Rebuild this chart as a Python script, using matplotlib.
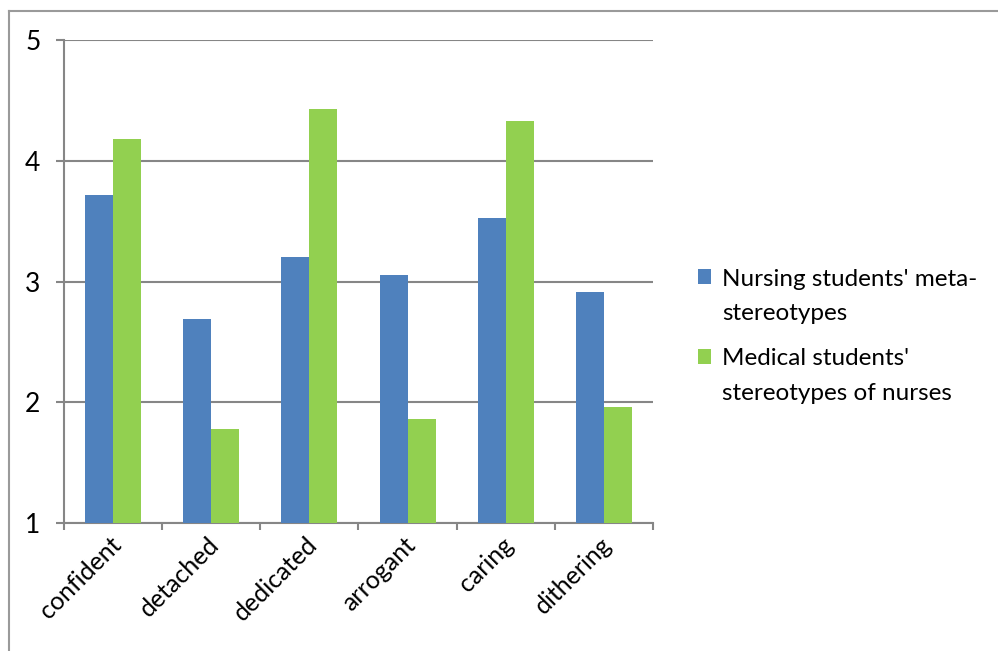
import matplotlib
matplotlib.use("Agg")
import matplotlib.pyplot as plt
from matplotlib.lines import Line2D
import matplotlib.transforms as mtransforms
import numpy as np

categories = ["confident", "detached", "dedicated", "arrogant", "caring", "dithering"]
nursing_meta = [3.72, 2.69, 3.20, 3.05, 3.53, 2.91]
medical_stereo = [4.18, 1.78, 4.43, 1.86, 4.33, 1.96]
series_labels = ["Nursing students' meta-\nstereotypes", "Medical students'\nstereotypes of nurses"]
y_ticks = [1, 2, 3, 4, 5]

plt.rcParams["font.family"] = ["Lato", "DejaVu Sans"]

W, H = 998, 651
fig = plt.figure(figsize=(W / 100, H / 100), dpi=100)

# outer chart frame (top and left edges visible)
frame_col = "#9a9a9a"
fig.add_artist(Line2D([9 / W, 1.0], [1 - 11 / H, 1 - 11 / H], color=frame_col, lw=1.5, transform=fig.transFigure))
fig.add_artist(Line2D([9 / W, 9 / W], [1 - 11 / H, 0.0], color=frame_col, lw=1.5, transform=fig.transFigure))

ax = fig.add_axes([64 / W, 1 - 523 / H, (653 - 64) / W, (523 - 40) / H])

x = np.arange(len(categories))
bw = 1 / 3.5
blue = "#4f81bd"
green = "#92d050"
ax.bar(x - bw / 2, nursing_meta, width=bw, color=blue, label=series_labels[0], zorder=3)
ax.bar(x + bw / 2, medical_stereo, width=bw, color=green, label=series_labels[1], zorder=3)

grid_col = "#868686"
ax.set_ylim(1, 5)
ax.set_xlim(-0.5, len(categories) - 0.5)
ax.set_yticks(y_ticks)
ax.yaxis.grid(True, color=grid_col, lw=1.5, zorder=0)
ax.set_axisbelow(True)

# category boundaries carry the x tick marks
ax.set_xticks(np.arange(len(categories) + 1) - 0.5, minor=False)
ax.set_xticklabels([])
ax.set_xticks(x, minor=True)
ax.set_xticklabels(categories, minor=True, rotation=45, ha="right", rotation_mode="anchor", fontsize=18)
ax.tick_params(axis="x", which="major", direction="out", length=5, width=1.5, color=grid_col)
ax.tick_params(axis="x", which="minor", length=0, pad=7)
ax.tick_params(axis="y", direction="out", length=6, width=1.5, color=grid_col, labelsize=19, pad=11)
shift = mtransforms.ScaledTranslation(-4 / 100, 0, fig.dpi_scale_trans)
for lbl in ax.get_xticklabels(minor=True):
    lbl.set_transform(lbl.get_transform() + shift)

for side in ("top", "right"):
    ax.spines[side].set_visible(False)
for side in ("left", "bottom"):
    ax.spines[side].set_color(grid_col)
    ax.spines[side].set_linewidth(1.5)

leg = fig.legend(loc="upper left", bbox_to_anchor=(688 / W, 1 - 259 / H), frameon=False,
                 fontsize=17.5, handlelength=0.55, handleheight=0.55, handletextpad=0.45,
                 labelspacing=1.0, borderaxespad=0)
for t in leg.get_texts():
    t.set_linespacing(1.78)
# align each swatch with the first line of its two-line label
for h in leg.legend_handles:
    h.set_y(h.get_y() + 14)

fig.savefig("out.png", dpi=100)
